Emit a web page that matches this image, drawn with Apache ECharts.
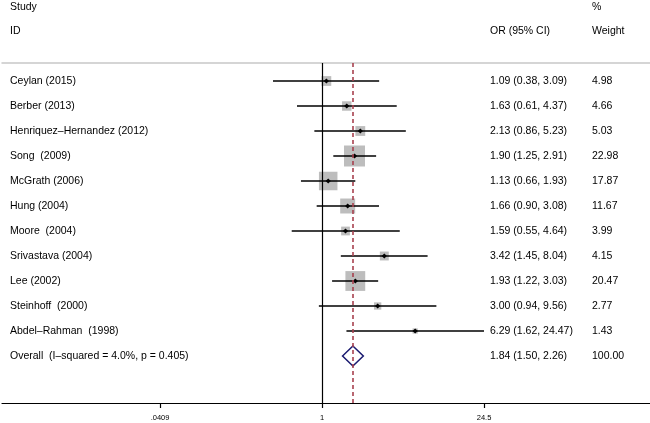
<!DOCTYPE html>
<html><head><meta charset="utf-8">
<script src="https://cdn.jsdelivr.net/npm/echarts@6/dist/echarts.min.js"></script>
<style>html,body{margin:0;padding:0;background:#fff}#c{width:650px;height:423px}</style>
</head><body><div id="c"></div>
<script>
// ---- data ----
const studies = ["Ceylan (2015)", "Berber (2013)", "Henriquez\u2013Hernandez (2012)", "Song  (2009)",
  "McGrath (2006)", "Hung (2004)", "Moore  (2004)", "Srivastava (2004)", "Lee (2002)",
  "Steinhoff  (2000)", "Abdel\u2013Rahman  (1998)"];
const orValues = [1.09, 1.63, 2.13, 1.90, 1.13, 1.66, 1.59, 3.42, 1.93, 3.00, 6.29];
const ciLower  = [0.38, 0.61, 0.86, 1.25, 0.66, 0.90, 0.55, 1.45, 1.22, 0.94, 1.62];
const ciUpper  = [3.09, 4.37, 5.23, 2.91, 1.93, 3.08, 4.64, 8.04, 3.03, 9.56, 24.47];
const weights  = [4.98, 4.66, 5.03, 22.98, 17.87, 11.67, 3.99, 4.15, 20.47, 2.77, 1.43];
const overallLabel = "Overall  (I\u2013squared = 4.0%, p = 0.405)";
const overallOR = [1.84];
const overallCI = [1.50, 2.26];
const overallWeight = ["100.00"];
const tickValues = [0.0409, 1, 24.5];
const tickLabels = [".0409", "1", "24.5"];
const headers = { study: "Study", id: "ID", or: "OR (95% CI)", pct: "%", weight: "Weight" };

// ---- layout / style ----
const FONT = '10.5px "Liberation Sans", Arial, Helvetica, sans-serif';
const COL_STUDY = 10, COL_OR = 490, COL_W = 592;
const fmt = v => v.toFixed(2);

const chart = echarts.init(document.getElementById('c'), null, { renderer: 'canvas' });

const rowData = studies.map((s, i) => [orValues[i], i, ciLower[i], ciUpper[i], weights[i]]);
const overallRow = studies.length;

function renderStudy(params, api) {
  const i = params.dataIndex;
  const row = api.value(1);
  const p = api.coord([api.value(0), row]);
  const lo = api.coord([api.value(2), row]);
  const hi = api.coord([api.value(3), row]);
  const side = 21 * Math.sqrt(api.value(4) / 22.98);
  const y = p[1];
  return {
    type: 'group',
    children: [
      { type: 'rect', shape: { x: p[0] - side / 2, y: y - side / 2, width: side, height: side },
        style: { fill: '#bdbdbd' } },
      { type: 'line', shape: { x1: lo[0], y1: y, x2: hi[0], y2: y },
        style: { stroke: '#000', lineWidth: 1.5 } },
      { type: 'polygon', shape: { points: [[p[0] - 2.6, y], [p[0], y - 2.6], [p[0] + 2.6, y], [p[0], y + 2.6]] },
        style: { fill: '#000' } },
      { type: 'text', x: COL_STUDY, y: y,
        style: { text: studies[i], font: FONT, fill: '#000', verticalAlign: 'middle', align: 'left' } },
      { type: 'text', x: COL_OR, y: y,
        style: { text: fmt(orValues[i]) + ' (' + fmt(ciLower[i]) + ', ' + fmt(ciUpper[i]) + ')',
          font: FONT, fill: '#000', verticalAlign: 'middle', align: 'left' } },
      { type: 'text', x: COL_W, y: y,
        style: { text: fmt(weights[i]), font: FONT, fill: '#000', verticalAlign: 'middle', align: 'left' } }
    ]
  };
}

function renderOverall(params, api) {
  const row = api.value(1);
  const c = api.coord([api.value(0), row]);
  const lo = api.coord([api.value(2), row]);
  const hi = api.coord([api.value(3), row]);
  const y = c[1];
  return {
    type: 'group',
    children: [
      { type: 'polygon', shape: { points: [[lo[0], y], [c[0], y - 10], [hi[0], y], [c[0], y + 10]] },
        style: { fill: 'none', stroke: '#1a1a70', lineWidth: 1.5 } },
      { type: 'text', x: COL_STUDY, y: y,
        style: { text: overallLabel, font: FONT, fill: '#000', verticalAlign: 'middle', align: 'left' } },
      { type: 'text', x: COL_OR, y: y,
        style: { text: fmt(overallOR[0]) + ' (' + fmt(overallCI[0]) + ', ' + fmt(overallCI[1]) + ')',
          font: FONT, fill: '#000', verticalAlign: 'middle', align: 'left' } },
      { type: 'text', x: COL_W, y: y,
        style: { text: overallWeight[0], font: FONT, fill: '#000', verticalAlign: 'middle', align: 'left' } }
    ]
  };
}

const headerText = (t, x, y) => ({ type: 'text', left: x, top: y,
  style: { text: t, font: FONT, fill: '#000', verticalAlign: 'middle' } });

chart.setOption({
  animation: false,
  backgroundColor: '#fff',
  grid: { left: 2, right: 0, top: 63, bottom: 20, containLabel: false },
  xAxis: [{
    type: 'log', logBase: 10, min: 0.001806, max: 648.3, position: 'bottom',
    axisLine: { show: true, onZero: false, lineStyle: { color: '#000', width: 1.2 } },
    axisTick: { show: true, customValues: tickValues, length: 5, lineStyle: { color: '#000', width: 1.2 } },
    axisLabel: { show: true, customValues: tickValues, margin: 11, fontSize: 7.5, color: '#000',
      fontFamily: '"Liberation Sans", Arial, sans-serif',
      formatter: v => {
        const k = tickValues.findIndex(t => Math.abs(Math.log(t) - Math.log(v)) < 1e-4);
        return k >= 0 ? tickLabels[k] : '';
      } },
    splitLine: { show: false }, minorTick: { show: false }
  }, {
    type: 'log', logBase: 10, min: 0.001806, max: 648.3, position: 'top',
    axisLine: { show: true, onZero: false, lineStyle: { color: '#c8c8c8', width: 1.5 } },
    axisTick: { show: false }, axisLabel: { show: false }, splitLine: { show: false }
  }],
  yAxis: { type: 'value', inverse: true, min: -0.72, max: 12.88, show: false, splitLine: { show: false } },
  graphic: [
    headerText(headers.study, COL_STUDY, 2),
    headerText(headers.id, COL_STUDY, 26),
    headerText(headers.or, COL_OR, 26),
    headerText(headers.pct, COL_W, 2),
    headerText(headers.weight, COL_W, 26)
  ],
  series: [
    { type: 'line', data: [], z: 1, silent: true,
      markLine: { silent: true, symbol: ['none', 'none'], label: { show: false },
        data: [
          { xAxis: 1, lineStyle: { color: '#000', width: 1.2, type: 'solid' } },
          { xAxis: overallOR[0], lineStyle: { color: '#a8414f', width: 1.6, type: [4, 3] } }
        ] } },
    { type: 'custom', z: 3, silent: true, clip: false, renderItem: renderStudy,
      encode: { x: [0, 2, 3], y: 1 }, data: rowData },
    { type: 'custom', z: 3, silent: true, clip: false, renderItem: renderOverall,
      encode: { x: [0, 2, 3], y: 1 }, data: [[overallOR[0], overallRow, overallCI[0], overallCI[1]]] }
  ]
});
</script></body></html>
